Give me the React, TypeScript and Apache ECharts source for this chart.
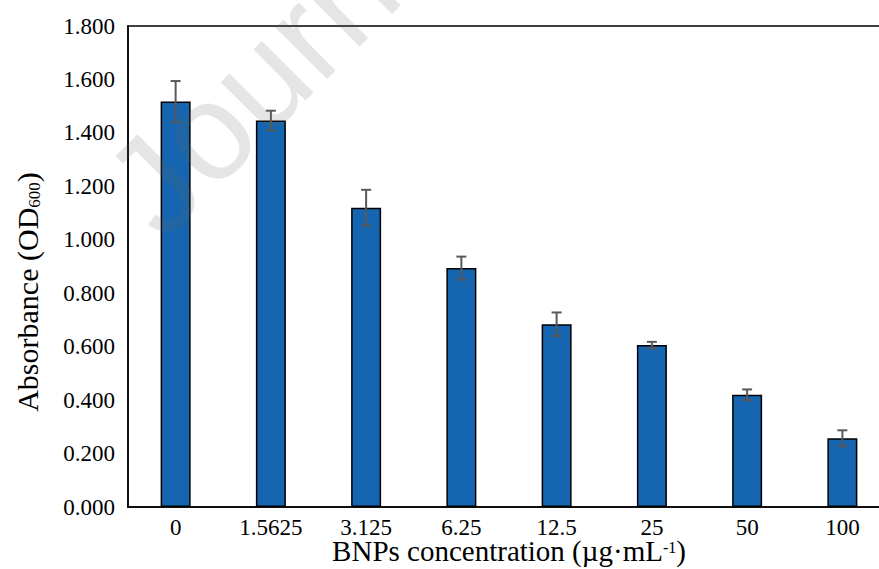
import React, { useEffect, useRef } from "react";
import * as echarts from "echarts";

const categories = ["0", "1.5625", "3.125", "6.25", "12.5", "25", "50", "100"];
const means = [1.517, 1.446, 1.12, 0.894, 0.684, 0.606, 0.42, 0.257];
const errors = [0.077, 0.037, 0.067, 0.043, 0.044, 0.012, 0.02, 0.03];
const yTicks = { min: 0, max: 1.8, interval: 0.2 };

const FONT = "Liberation Serif";

export default function App() {
  const ref = useRef<HTMLDivElement>(null);
  useEffect(() => {
    if (!ref.current) return;
    const chart = echarts.init(ref.current, null, { renderer: "svg" });
    chart.setOption({
      animation: false,
      backgroundColor: "#fff",
      grid: {
        left: 128,
        top: 26,
        right: -11,
        bottom: 62,
        show: true,
        borderColor: "#000",
        borderWidth: 1.5,
        containLabel: false,
        outerBoundsMode: "none",
      },
      xAxis: {
        type: "category",
        data: categories,
        axisLine: { lineStyle: { color: "#000", width: 1.5 } },
        axisTick: { show: false },
        axisLabel: { color: "#000", fontFamily: FONT, fontSize: 23, lineHeight: 23, margin: 8.5 },
      },
      yAxis: {
        type: "value",
        min: yTicks.min,
        max: yTicks.max,
        interval: yTicks.interval,
        splitLine: { show: false },
        axisLine: { show: true, lineStyle: { color: "#000", width: 1.5 } },
        axisTick: { show: false },
        axisLabel: {
          color: "#000",
          fontFamily: FONT,
          fontSize: 23,
          margin: 13,
          formatter: (v: number) => v.toFixed(3),
        },
      },
      graphic: [
        {
          type: "text",
          x: 509,
          y: 551,
          style: {
            text: "{t|BNPs concentration (µg·mL}{sup|-1}{t|)}",
            align: "center",
            verticalAlign: "middle",
            rich: {
              t: { fontFamily: FONT, fontSize: 29, fill: "#000", lineHeight: 24 },
              sup: { fontFamily: FONT, fontSize: 16, fill: "#000", verticalAlign: "top", lineHeight: 12 },
            },
          },
        },
        {
          type: "text",
          x: 27,
          y: 292,
          rotation: Math.PI / 2,
          style: {
            text: "{t|Absorbance (OD}{sub|600}{t|)}",
            align: "center",
            verticalAlign: "middle",
            rich: {
              t: { fontFamily: FONT, fontSize: 30, fill: "#000", lineHeight: 32 },
              sub: { fontFamily: FONT, fontSize: 17, fill: "#000", verticalAlign: "bottom", lineHeight: 18 },
            },
          },
        },
        {
          type: "text",
          x: 129,
          y: 209,
          rotation: Math.PI / 4,
          z: 100,
          silent: true,
          style: {
            text: "Journal Pre-proof",
            fontFamily: "Liberation Sans",
            fontSize: 138,
            fill: "rgba(100,100,100,0.17)",
            align: "left",
            verticalAlign: "middle",
          },
        },
      ],
      series: [
        {
          type: "bar",
          data: means,
          barWidth: 30,
          itemStyle: { color: "#1565b0", borderColor: "#000", borderWidth: 1.5 },
        },
        {
          type: "custom",
          data: means.map((m, i) => [i, m, errors[i]]),
          encode: { x: 0, y: 1 },
          z: 10,
          renderItem: (params: any, api: any) => {
            const x = api.value(0);
            const m = api.value(1);
            const e = api.value(2);
            const top = api.coord([x, m + e]);
            const bot = api.coord([x, m - e]);
            const hw = 5;
            const st = { stroke: "#595959", lineWidth: 2 };
            return {
              type: "group",
              children: [
                { type: "line", shape: { x1: top[0], y1: top[1], x2: bot[0], y2: bot[1] }, style: st },
                { type: "line", shape: { x1: top[0] - hw, y1: top[1], x2: top[0] + hw, y2: top[1] }, style: st },
                { type: "line", shape: { x1: bot[0] - hw, y1: bot[1], x2: bot[0] + hw, y2: bot[1] }, style: st },
              ],
            };
          },
        },
      ],
    });
    return () => chart.dispose();
  }, []);
  return (
    <div style={{ position: "absolute", left: 0, top: 0, width: 879, height: 569, overflow: "hidden" }}>
      <div ref={ref} style={{ width: 879, height: 569, overflow: "hidden" }} />
    </div>
  );
}
